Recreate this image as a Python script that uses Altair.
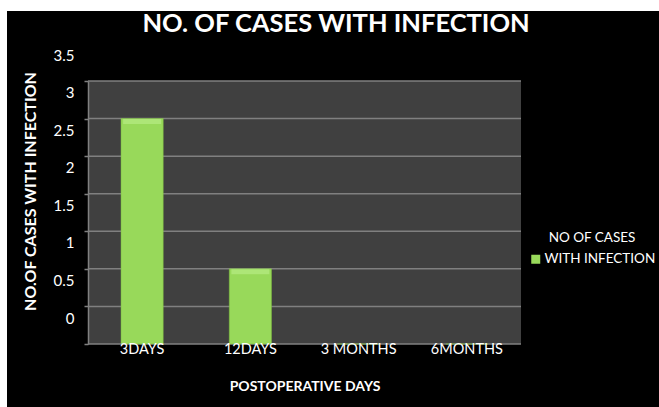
import altair as alt
import pandas as pd

# Postoperative follow-up: number of cases with infection
categories = ["3DAYS", "12DAYS", "3 MONTHS", "6MONTHS"]
cases = [3, 1, 0, 0]
y_ticks = [0, 0.5, 1, 1.5, 2, 2.5, 3, 3.5]
legend_heading = "NO OF CASES"
series_name = "WITH INFECTION"

W, H = 433, 263
PAD = {"left": 88, "top": 81, "right": 138, "bottom": 63}

FONT = "Lato, sans-serif"
BAR_GREEN = "#98d95a"
BAR_HIGHLIGHT = "#afe77a"
PLOT_GRAY = "#404040"
GRID_GRAY = "#808080"

df = pd.DataFrame({
    "period": categories,
    "cases": cases,
    "series": [series_name] * len(categories),
})
ticks_df = pd.DataFrame({"tick": y_ticks})
one_row = alt.Data(values=[{}])

# dark frame around the chart and the plot-area panel
frame = alt.Chart(one_row).mark_rect(color="black").encode(
    x=alt.value(-PAD["left"] + 7), x2=alt.value(W + PAD["right"]),
    y=alt.value(-PAD["top"] + 11), y2=alt.value(H + PAD["bottom"]),
)
panel = alt.Chart(one_row).mark_rect(color=PLOT_GRAY).encode(
    x=alt.value(0), x2=alt.value(W), y=alt.value(0), y2=alt.value(H),
)

y_scale = alt.Scale(domain=[0, 3.5])
x_scale = alt.Scale(paddingInner=0.61, paddingOuter=0.305)
y_axis = alt.Axis(
    values=y_ticks, format="~g", grid=False, zindex=1,
    title="NO.OF CASES WITH INFECTION", titleFont=FONT, titleFontSize=16,
    titleFontWeight="bold", titleColor="white", titleAngle=270,
    titleX=-58, titleY=110, titleAlign="center", titleBaseline="middle",
    labelFont=FONT, labelFontSize=15, labelColor="white",
    labelOffset=-26, labelPadding=10,
    domain=True, domainColor=GRID_GRAY, domainWidth=1.5,
    ticks=True, tickSize=4, tickColor=GRID_GRAY, tickWidth=1.5,
)
x_axis = alt.Axis(
    title="POSTOPERATIVE DAYS", titleFont=FONT, titleFontSize=14,
    titleFontWeight="bold", titleColor="white", titlePadding=24,
    labelAngle=0, labelFont=FONT, labelFontSize=14.5, labelColor="white",
    labelPadding=-2, domain=False, ticks=False, zindex=1,
)

grid = alt.Chart(ticks_df).mark_rule(color=GRID_GRAY, strokeWidth=1.5).encode(
    y=alt.Y("tick:Q", scale=y_scale, axis=y_axis),
)

bars = alt.Chart(df).mark_bar(stroke="#7fbf3f", strokeWidth=0.5).encode(
    x=alt.X("period:N", sort=categories, scale=x_scale, axis=x_axis),
    y=alt.Y("cases:Q", scale=y_scale, axis=y_axis),
    color=alt.Color(
        "series:N",
        scale=alt.Scale(range=[BAR_GREEN]),
        legend=alt.Legend(
            title=legend_heading, titleFont=FONT, titleFontSize=13.5,
            titleFontWeight="normal", titleColor="white", titleAnchor="middle",
            titlePadding=8,
            orient="none", legendX=441, legendY=150,
            symbolType="square", symbolSize=81, symbolStrokeWidth=0,
            labelFont=FONT, labelFontSize=13.5, labelColor="white",
            labelBaseline="middle", labelOffset=2,
        ),
    ),
)

# light bevel along the top edge of each non-empty bar
bevel = alt.Chart(df).transform_filter("datum.cases > 0").mark_tick(
    color=BAR_HIGHLIGHT, thickness=5, size=38, yOffset=3, opacity=0.9,
).encode(
    x=alt.X("period:N", sort=categories, scale=x_scale, axis=x_axis),
    y=alt.Y("cases:Q", scale=y_scale, axis=y_axis),
)

chart = alt.layer(frame, panel, grid, bars, bevel).properties(
    width=W, height=H,
    padding=PAD,
    autosize=alt.AutoSizeParams(type="none"),
    background="white",
    title=alt.TitleParams(
        "NO. OF CASES WITH INFECTION", font=FONT, fontSize=25.5, fontWeight="bold",
        color="white", anchor="middle", frame="bounds", dx=3,
        baseline="alphabetic", offset=0, dy=46.5,
    ),
).configure_view(stroke=None)

chart.save("out.html", embed_options={"renderer": "svg", "actions": False})
